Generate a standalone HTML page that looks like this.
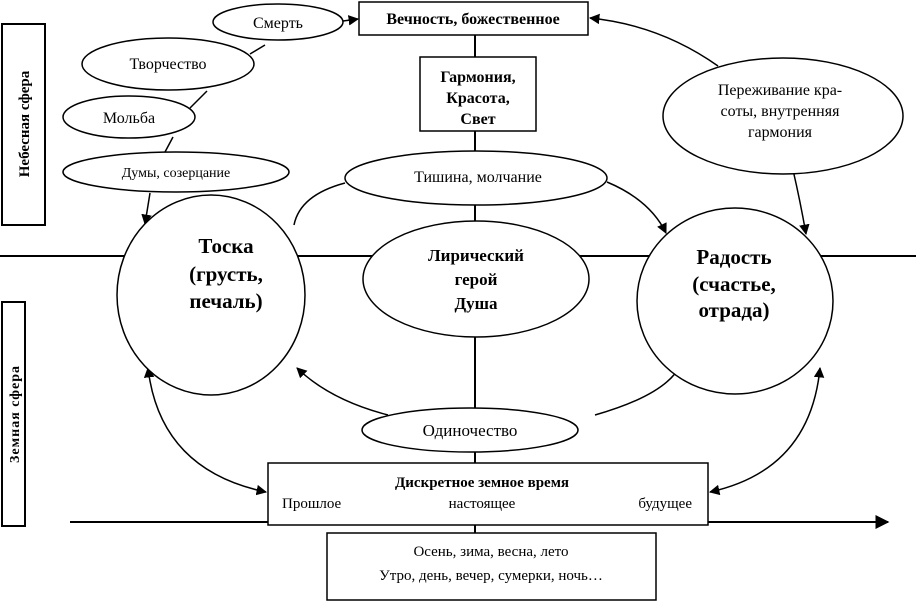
<!DOCTYPE html>
<html><head><meta charset="utf-8"><style>
html,body{margin:0;padding:0;background:#fff;}
svg{display:block;}
text{font-family:"Liberation Serif",serif;fill:#000;}
.b{font-weight:bold;}
</style></head><body>
<svg width="916" height="602" viewBox="0 0 916 602" xmlns="http://www.w3.org/2000/svg">
<defs>
<marker id="a" viewBox="0 0 10 10" refX="9" refY="5" markerWidth="7" markerHeight="7" orient="auto-start-reverse"><path d="M0,0 L10,5 L0,10 z" fill="#000"/></marker>
</defs>
<g stroke="#000" stroke-width="2" fill="none">
<!-- side boxes -->
<rect x="2" y="24" width="43" height="201"/>
<rect x="2" y="302" width="23" height="224"/>
<!-- horizontal divider -->
<line x1="0" y1="256" x2="916" y2="256"/>
<!-- vertical spine -->
<line x1="475" y1="35" x2="475" y2="57"/>
<line x1="475" y1="131" x2="475" y2="222"/>
<line x1="475" y1="337" x2="475" y2="463"/>
<line x1="475" y1="525" x2="475" y2="533"/>
<!-- time axis -->
<line x1="70" y1="522" x2="888" y2="522" marker-end="url(#a)"/>
</g>
<g stroke="#000" stroke-width="1.5" fill="none">
<!-- chain on left -->
<line x1="265" y1="45" x2="250" y2="54"/>
<line x1="207" y1="91" x2="190" y2="108"/>
<line x1="173" y1="137" x2="165" y2="152"/>
<line x1="150" y1="193" x2="145" y2="224" marker-end="url(#a)"/>
<line x1="343" y1="21" x2="358" y2="19" marker-end="url(#a)"/>
<!-- Переживание arrows -->
<path d="M718,66 Q660,25 590,18" marker-end="url(#a)"/>
<path d="M793,170 Q800,200 806,234" marker-end="url(#a)"/>
<!-- Тишина curves -->
<path d="M607,182 Q650,200 666,233" marker-end="url(#a)"/>
<path d="M345,183 Q300,195 294,225"/>
<!-- Одиночество curves -->
<path d="M388,415 Q330,400 297,368" marker-end="url(#a)"/>
<path d="M595,415 Q665,395 680,366"/>
<!-- long double arrows -->
<path d="M148,368 Q160,470 266,492" marker-start="url(#a)" marker-end="url(#a)"/>
<path d="M820,368 Q810,470 710,492" marker-start="url(#a)" marker-end="url(#a)"/>
</g>
<g stroke="#000" stroke-width="1.5" fill="#fff">
<rect x="359" y="2" width="229" height="33"/>
<rect x="420" y="57" width="116" height="74"/>
<ellipse cx="278" cy="22" rx="65" ry="18"/>
<ellipse cx="168" cy="64" rx="86" ry="26"/>
<ellipse cx="129" cy="117" rx="66" ry="21"/>
<ellipse cx="176" cy="172" rx="113" ry="20"/>
<ellipse cx="783" cy="116" rx="120" ry="58"/>
<ellipse cx="476" cy="178" rx="131" ry="27"/>
<ellipse cx="211" cy="295" rx="94" ry="100"/>
<ellipse cx="735" cy="301" rx="98" ry="93"/>
<ellipse cx="476" cy="279" rx="113" ry="58"/>
<ellipse cx="470" cy="430" rx="108" ry="22"/>
<rect x="268" y="463" width="440" height="62"/>
<rect x="327" y="533" width="329" height="67"/>
</g>
<text class="b" x="473" y="24" font-size="16" text-anchor="middle">Вечность, божественное</text>
<text class="b" font-size="16" text-anchor="middle"><tspan x="478" y="82">Гармония,</tspan><tspan x="478" y="103">Красота,</tspan><tspan x="478" y="124">Свет</tspan></text>
<text x="278" y="28" font-size="16" text-anchor="middle">Смерть</text>
<text x="168" y="69" font-size="16" text-anchor="middle">Творчество</text>
<text x="129" y="123" font-size="16" text-anchor="middle">Мольба</text>
<text x="176" y="177" font-size="14" text-anchor="middle">Думы, созерцание</text>
<text font-size="16" text-anchor="middle"><tspan x="780" y="95">Переживание кра-</tspan><tspan x="780" y="116">соты, внутренняя</tspan><tspan x="780" y="137">гармония</tspan></text>
<text x="478" y="182" font-size="16" text-anchor="middle">Тишина, молчание</text>
<text class="b" font-size="21" text-anchor="middle"><tspan x="226" y="253">Тоска</tspan><tspan x="226" y="281">(грусть,</tspan><tspan x="226" y="308">печаль)</tspan></text>
<text class="b" font-size="21" text-anchor="middle"><tspan x="734" y="264">Радость</tspan><tspan x="734" y="291">(счастье,</tspan><tspan x="734" y="317">отрада)</tspan></text>
<text class="b" font-size="17" text-anchor="middle"><tspan x="476" y="261">Лирический</tspan><tspan x="476" y="285">герой</tspan><tspan x="476" y="309">Душа</tspan></text>
<text x="470" y="436" font-size="17" text-anchor="middle">Одиночество</text>
<text class="b" x="482" y="487" font-size="15" text-anchor="middle">Дискретное земное время</text>
<text x="282" y="508" font-size="15">Прошлое</text>
<text x="482" y="508" font-size="15" text-anchor="middle">настоящее</text>
<text x="692" y="508" font-size="15" text-anchor="end">будущее</text>
<text x="491" y="556" font-size="15" text-anchor="middle">Осень, зима, весна, лето</text>
<text x="491" y="580" font-size="15" text-anchor="middle">Утро, день, вечер, сумерки, ночь…</text>
<text class="b" font-size="15" text-anchor="middle" transform="translate(29,124) rotate(-90)">Небесная сфера</text>
<text class="b" font-size="14" text-anchor="middle" letter-spacing="1" transform="translate(19,414) rotate(-90)">Земная сфера</text>
</svg>
</body></html>
